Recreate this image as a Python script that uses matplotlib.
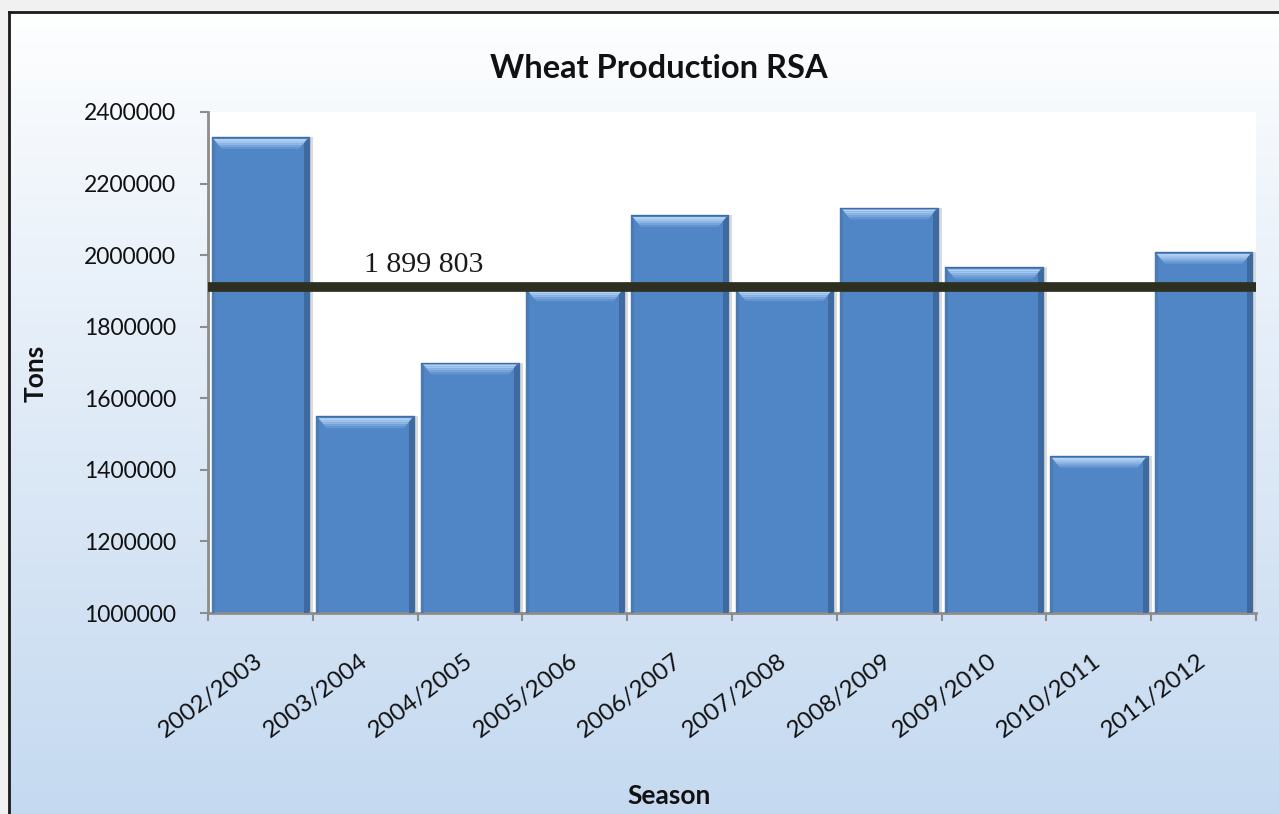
import numpy as np
import matplotlib
matplotlib.use("Agg")
import matplotlib.pyplot as plt

# ---- data ----
seasons = ["2002/2003", "2003/2004", "2004/2005", "2005/2006", "2006/2007",
           "2007/2008", "2008/2009", "2009/2010", "2010/2011", "2011/2012"]
production = [2330000, 1550000, 1700000, 1905000, 2112000,
              1905000, 2133000, 1966000, 1439000, 2009000]
average_label = "1 899 803"
average_line = 1910000
y_ticks = [1000000, 1200000, 1400000, 1600000, 1800000, 2000000, 2200000, 2400000]

plt.rcParams['font.family'] = ['Lato', 'DejaVu Sans']

W, H = 1279, 814
fig = plt.figure(figsize=(W / 100, H / 100), dpi=100)
fig.patch.set_facecolor('#f1f1f1')

# chart-area background with vertical gradient and black frame
bg = fig.add_axes([9 / W, -0.01, 1.0, 1 - 12 / H + 0.01])
grad = np.linspace(0, 1, 256).reshape(-1, 1)
top = np.array([1.0, 1.0, 1.0])
bot = np.array([0xc4, 0xd9, 0xf0]) / 255
img = top + (bot - top) * grad[..., None] ** 0.9
bg.imshow(img, aspect='auto', extent=[0, 1, 0, 1], origin='upper')
bg.set_xlim(0, 1); bg.set_ylim(0, 1)
bg.set_xticks([]); bg.set_yticks([])
for s in ['right', 'bottom']:
    bg.spines[s].set_visible(False)
for s in ['left', 'top']:
    bg.spines[s].set_color('#1a1a1a')
    bg.spines[s].set_linewidth(2.0)
bg.set_zorder(0)

# plot area
ax = fig.add_axes([208 / W, 1 - 613 / H, (1256 - 208) / W, (613 - 112) / H])
ax.set_zorder(1)
ax.set_facecolor('white')
x = np.arange(len(seasons))
vals = np.array(production)
bw = 0.93
base = 1000000
bar_color = '#5086c5'
px_val = (2400000 - 1000000) / (613 - 112)   # data units per pixel (vertical)
px_x = 10 / (1256 - 208)                      # data units per pixel (horizontal)

# shadows
ax.bar(x + 4 * px_x, vals - base, bottom=base, width=bw,
       color='#bdbdbd', alpha=0.55, zorder=1, linewidth=0)
ax.bar(x, vals - base, bottom=base, width=bw,
       color=bar_color, edgecolor='#3e6da6', linewidth=1.0, zorder=2)
# darker right edge
ax.bar(x + bw / 2 - 2.5 * px_x, vals - base - 2 * px_val, bottom=base, width=5 * px_x,
       color='#3b6699', linewidth=0, zorder=3, alpha=0.85)
ax.bar(x - bw / 2 + 1.5 * px_x, vals - base - 2 * px_val, bottom=base, width=3 * px_x,
       color='#4a7bb5', linewidth=0, zorder=3)

# bevel highlight (trapezoids) near top of bars
bevel_cols = ['#b4d2f3', '#a3c6ee', '#8fb7e5', '#78a6dc', '#6395d0']
for xi, v in zip(x, vals):
    for k, c in enumerate(bevel_cols):
        y0 = v - (2 + 2 * k) * px_val
        y1 = v - (4 + 2 * k) * px_val
        i0 = (2 + 1.6 * k) * px_x
        i1 = (2 + 1.6 * (k + 1)) * px_x
        ax.fill([xi - bw / 2 + i0, xi + bw / 2 - i0, xi + bw / 2 - i1, xi - bw / 2 + i1],
                [y0, y0, y1, y1], color=c, linewidth=0, zorder=4)

# average line
ax.plot([-0.5, 9.5], [average_line, average_line], color='#2d3021', linewidth=7,
        solid_capstyle='butt', zorder=5)
ax.text(1.56, average_line + 25000, average_label, family='Liberation Serif',
        fontsize=21.5, color='#1a1a1a', ha='center', va='bottom', zorder=6)

ax.set_xlim(-0.5, 9.5)
ax.set_ylim(1000000, 2400000)
ax.set_yticks(y_ticks)
ax.set_yticklabels([str(v) for v in y_ticks], fontsize=16.5, color='#111111')
ax.set_xticks(x)
ax.set_xticklabels(seasons, rotation=37, ha='right', va='center',
                   rotation_mode='anchor', fontsize=17.5, color='#111111')
ax.set_xticks(np.arange(-0.5, 10, 1), minor=True)
ax.tick_params(axis='x', which='major', length=0, pad=33)
ax.tick_params(axis='x', which='minor', length=6, width=1.5, color='#8c8c8c', direction='out')
ax.tick_params(axis='y', length=6, width=1.5, color='#8c8c8c', pad=17)
for s in ['top', 'right']:
    ax.spines[s].set_visible(False)
for s in ['left', 'bottom']:
    ax.spines[s].set_color('#8c8c8c')
    ax.spines[s].set_linewidth(2)

fig.text(659 / W, 1 - 69 / H, "Wheat Production RSA", fontsize=23.5, fontweight='bold',
         ha='center', va='center', color='#111111')
fig.text(36 / W, 1 - 373 / H, "Tons", fontsize=19, fontweight='bold', rotation=90,
         ha='center', va='center', color='#111111')
fig.text(669 / W, 1 - 796 / H, "Season", fontsize=19, fontweight='bold',
         ha='center', va='center', color='#111111')

fig.savefig('out.png', dpi=100, facecolor=fig.get_facecolor())
